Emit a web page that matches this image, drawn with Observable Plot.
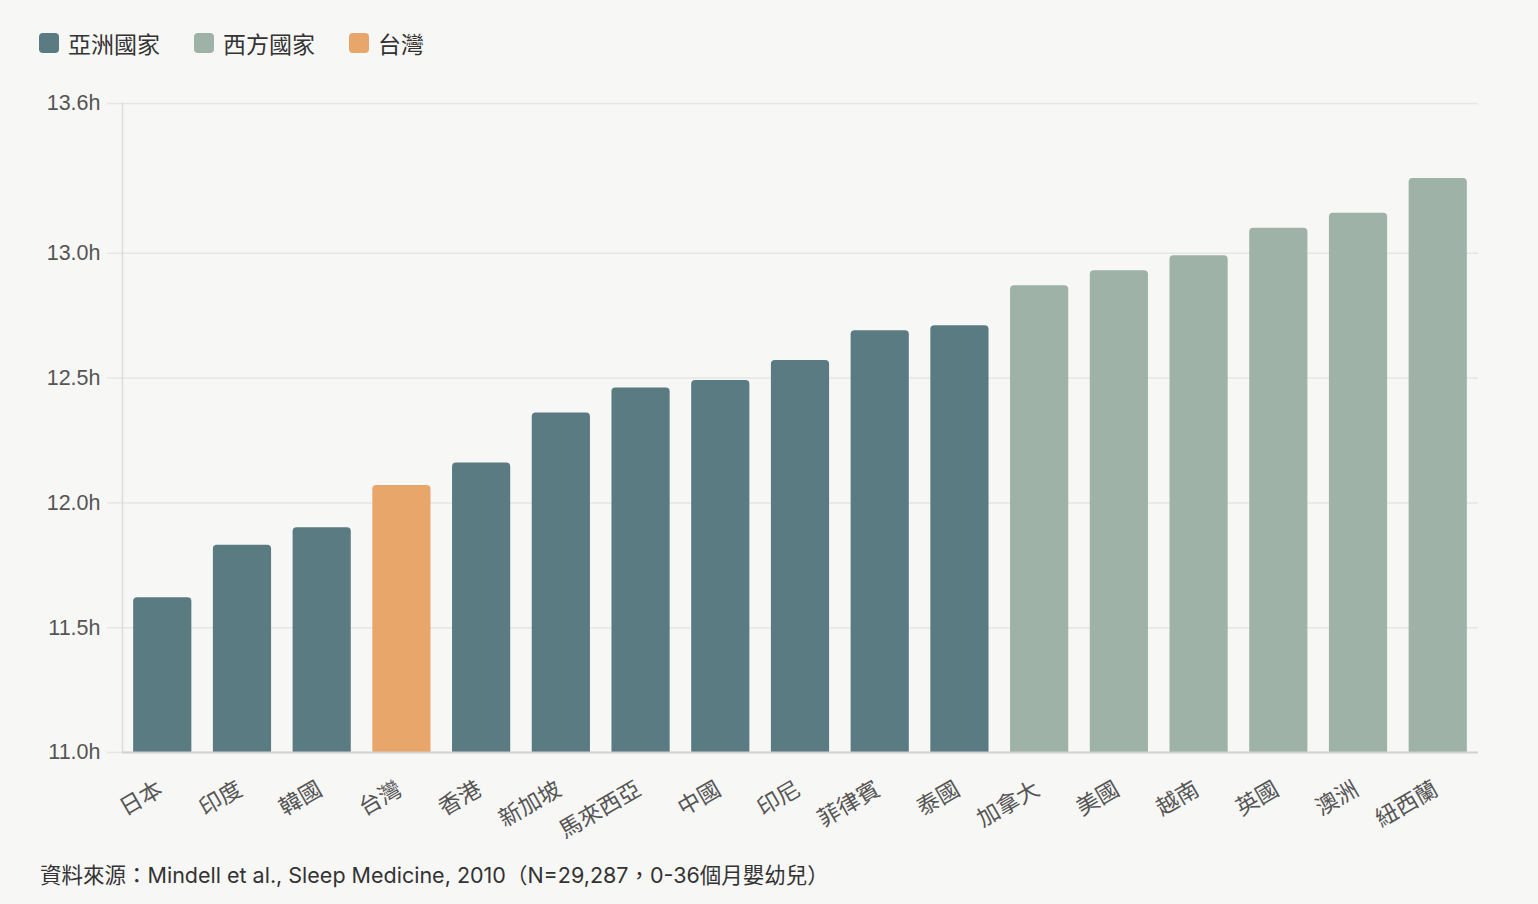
<!DOCTYPE html>
<html><head><meta charset="utf-8">
<script src="https://cdn.jsdelivr.net/npm/d3@7"></script>
<script src="https://cdn.jsdelivr.net/npm/@observablehq/plot@0.6"></script>
<style>
html,body{margin:0;background:#f7f7f5;}
body{width:1538px;height:904px;overflow:hidden;font-family:"Liberation Sans","Noto Sans CJK TC",sans-serif;}
#legend{display:flex;align-items:center;height:30px;padding:28px 0 0 39px;margin-bottom:2px;font-family:"Noto Sans CJK TC",sans-serif;font-size:23px;color:#333;}
.item{display:flex;align-items:center;margin-right:34px;}
.sw{width:20px;height:20px;border-radius:4px;margin-right:9px;}
#chart svg{display:block;}
#caption{margin:11px 0 0 40px;font-family:Inter,"Noto Sans CJK TC",sans-serif;font-size:21.5px;line-height:28px;color:#333;}
</style></head>
<body>
<div id="legend"></div>
<div id="chart"></div>
<div id="caption"></div>
<script>
const countries = ["日本","印度","韓國","台灣","香港","新加坡","馬來西亞","中國","印尼","菲律賓","泰國","加拿大","美國","越南","英國","澳洲","紐西蘭"];
const hours = [11.62,11.83,11.90,12.07,12.16,12.36,12.46,12.49,12.57,12.69,12.71,12.87,12.93,12.99,13.10,13.16,13.30];
const groups = ["亞洲國家","亞洲國家","亞洲國家","台灣","亞洲國家","亞洲國家","亞洲國家","亞洲國家","亞洲國家","亞洲國家","亞洲國家","西方國家","西方國家","西方國家","西方國家","西方國家","西方國家"];
const groupNames = ["亞洲國家","西方國家","台灣"];
const groupColors = ["#5a7b81","#9fb2a8","#e8a66b"];
const yTicks = [11, 11.5, 12, 12.5, 13, 13.6];
const captionText = "資料來源：Mindell et al., Sleep Medicine, 2010（N=29,287，0-36個月嬰幼兒）";

const data = countries.map((c, i) => ({country: c, hours: hours[i], group: groups[i]}));

const chart = Plot.plot({
  width: 1538,
  height: 790,
  marginTop: 43,
  marginBottom: 98,
  marginLeft: 122,
  marginRight: 60,
  style: {background: "transparent", fontFamily: '"Liberation Sans","Noto Sans CJK TC",sans-serif', fontSize: "21px", color: "#555"},
  x: {domain: countries, paddingInner: 0.27, paddingOuter: 0.14, round: false, label: null},
  y: {domain: [11, 13.6], label: null},
  color: {domain: groupNames, range: groupColors},
  marks: [
    Plot.gridY(yTicks, {stroke: "#e6e6e3", strokeOpacity: 1, strokeWidth: 1.5}),
    Plot.axisY(yTicks, {tickSize: 15, stroke: "#e6e6e3", strokeOpacity: 1, strokeWidth: 1.5, tickPadding: 7, tickFormat: d => d.toFixed(1) + "h", fill: "#555", fontSize: 21.5, label: null}),
    Plot.frame({anchor: "left", stroke: "#dcdcda", strokeWidth: 1.5}),
    Plot.barY(data, {x: "country", y1: 11, y2: "hours", fill: "group", ry1: 4}),
    Plot.ruleY([11], {stroke: "#d2d2d0", strokeWidth: 2}),
    Plot.axisX({tickSize: 0, tickRotate: -30, textAnchor: "end", lineAnchor: "middle", tickPadding: 35, dx: -2, fontSize: 22.5, fill: "#555", label: null, fontFamily: '"Noto Sans CJK TC",sans-serif'})
  ]
});
document.getElementById("chart").appendChild(chart);

const color = chart.scale("color");
const legend = document.getElementById("legend");
color.domain.forEach((name, i) => {
  const item = document.createElement("div");
  item.className = "item";
  const sw = document.createElement("span");
  sw.className = "sw";
  sw.style.background = color.range[i];
  const label = document.createElement("span");
  label.textContent = name;
  item.appendChild(sw);
  item.appendChild(label);
  legend.appendChild(item);
});
document.getElementById("caption").textContent = captionText;
</script>
</body></html>
